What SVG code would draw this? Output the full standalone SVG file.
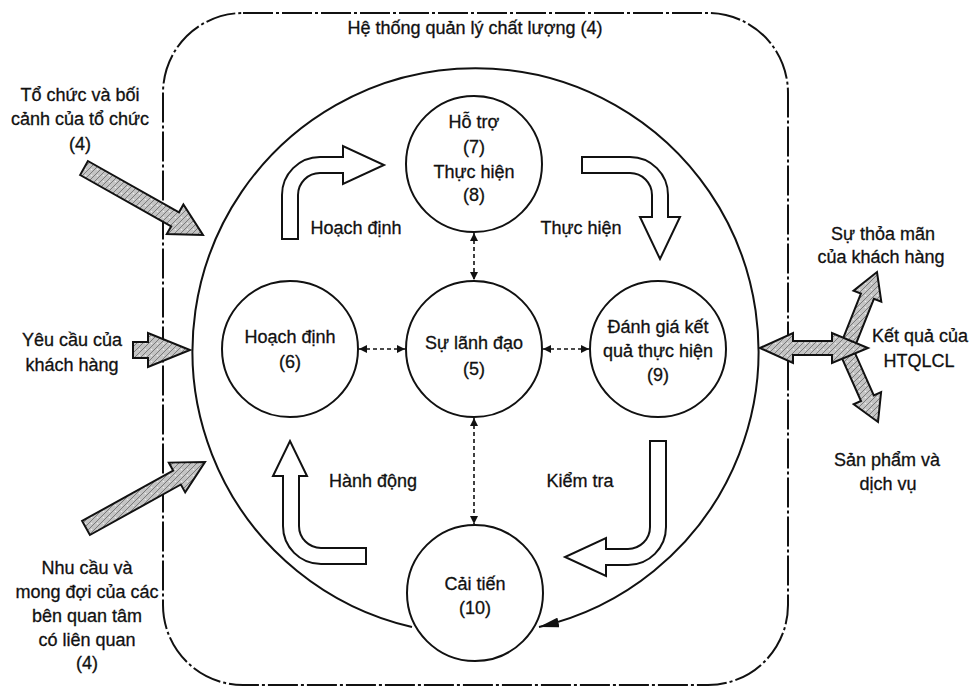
<svg xmlns="http://www.w3.org/2000/svg" width="972" height="691" viewBox="0 0 972 691">
<defs>
<style>
text{font-family:"Liberation Sans",Arial,sans-serif;font-size:18px;fill:#111;stroke:#111;stroke-width:0.3;text-anchor:middle}
.node{fill:#fff;stroke:#111;stroke-width:2}
.dash{stroke:#111;stroke-width:1.6;stroke-dasharray:4 3;fill:none;marker-start:url(#sm);marker-end:url(#sm)}
.block{fill:#fff;stroke:#111;stroke-width:2;stroke-linejoin:miter}
.hatch{fill:url(#hp);stroke:#111;stroke-width:2;stroke-linejoin:miter}
.frame{fill:none;stroke:#111;stroke-width:2;stroke-dasharray:30 3 3 3}
.cycle{fill:none;stroke:#111;stroke-width:2;marker-end:url(#big)}
</style>
<pattern id="hp" width="6" height="6" patternUnits="userSpaceOnUse">
<rect width="6" height="6" fill="#c4c4c4"/>
<path d="M0,6 L6,0" stroke="#7a7a7a" stroke-width="1"/>
<circle cx="1.5" cy="1.5" r="0.8" fill="#eee"/>
</pattern>
<marker id="sm" viewBox="0 0 10 10" refX="10" refY="5" markerWidth="5" markerHeight="5" orient="auto-start-reverse" markerUnits="strokeWidth">
<path d="M0,0 L10,5 L0,10 Z" fill="#111"/>
</marker>
<marker id="big" viewBox="0 0 20 10" refX="20" refY="5" markerWidth="10" markerHeight="5" orient="auto" markerUnits="strokeWidth">
<path d="M0,0 L20,5 L0,10 Z" fill="#111"/>
</marker>
</defs>
<rect width="972" height="691" fill="#fff"/>

<g id="qms-frame">
<rect class="frame" x="163" y="13" width="625" height="672" rx="80" ry="80"/>
<text x="475" y="34">Hệ thống quản lý chất lượng (4)</text>
</g>

<g id="connectors">
<path class="cycle" d="M412,627 A283,283 0 1 1 539,627"/>
<line class="dash" x1="474" y1="233" x2="474" y2="280"/>
<line class="dash" x1="474" y1="418" x2="474" y2="524"/>
<line class="dash" x1="359" y1="349" x2="405" y2="349"/>
<line class="dash" x1="543" y1="349" x2="589" y2="349"/>
<path class="block" d="M282,239 L282,195 A38,38 0 0 1 320,157 L343,157 L343,146 L384,165 L343,184 L343,173 L320,173 A22,22 0 0 0 298,195 L298,239 Z"/>
<path class="block" d="M582,157 L630,157 A38,38 0 0 1 668,195 L668,217 L680,217 L660,259 L640,217 L652,217 L652,195 A22,22 0 0 0 630,173 L582,173 Z"/>
<path class="block" d="M283,476 L283,526 A38,38 0 0 0 321,564 L366,564 L366,548 L321,548 A22,22 0 0 1 299,526 L299,476 L307,476 L290,441 L273,476 Z"/>
<path class="block" d="M650,441 L666,441 L666,527 A38,38 0 0 1 628,565 L606,565 L606,576 L565,557 L606,538 L606,549 L628,549 A22,22 0 0 0 650,527 Z"/>
<polygon class="hatch" points="80.1,175 171.2,226.3 166.8,234.1 203,235 183.4,204.5 179,212.3 87.9,161"/>
<polygon class="hatch" points="133,342 148,342 148,333 190,350 148,367 148,358 133,358"/>
<polygon class="hatch" points="89.9,535 180.9,484.5 185.2,492.4 205,462 168.8,462.6 173.1,470.5 82.1,521"/>
<polygon class="hatch" points="852.5,352.6 873.9,298.8 881.3,301.7 877,272 853.5,290.7 860.9,293.6 839.5,347.4"/>
<polygon class="hatch" points="839.6,352.8 861,401 853.7,404.3 878,422 881.1,392.1 873.8,395.4 852.4,347.2"/>
<polygon class="hatch" points="760,348 793,333 793,341 832,341 832,333 868,348 832,363 832,355 793,355 793,363"/>
<text x="356" y="234">Hoạch định</text>
<text x="581" y="234">Thực hiện</text>
<text x="373" y="487">Hành động</text>
<text x="580" y="487">Kiểm tra</text>
</g>

<g id="node-ho-tro">
<circle class="node" cx="474" cy="164" r="68"/>
<text x="474" y="128">Hỗ trợ</text>
<text x="474" y="153">(7)</text>
<text x="474" y="178">Thực hiện</text>
<text x="474" y="201">(8)</text>
</g>
<g id="node-hoach-dinh">
<circle class="node" cx="290" cy="349" r="68"/>
<text x="290" y="343">Hoạch định</text>
<text x="290" y="368">(6)</text>
</g>
<g id="node-lanh-dao">
<circle class="node" cx="474" cy="349" r="68"/>
<text x="474" y="349">Sự lãnh đạo</text>
<text x="474" y="375">(5)</text>
</g>
<g id="node-danh-gia">
<circle class="node" cx="658" cy="349" r="68"/>
<text x="658" y="333">Đánh giá kết</text>
<text x="658" y="357">quả thực hiện</text>
<text x="658" y="381">(9)</text>
</g>
<g id="node-cai-tien">
<circle class="node" cx="475" cy="593" r="68"/>
<text x="475" y="590">Cải tiến</text>
<text x="475" y="614">(10)</text>
</g>

<g id="input-to-chuc">
<text x="80" y="101">Tổ chức và bối</text>
<text x="80" y="125">cảnh của tổ chức</text>
<text x="80" y="150">(4)</text>
</g>
<g id="input-yeu-cau">
<text x="72" y="346">Yêu cầu của</text>
<text x="72" y="371">khách hàng</text>
</g>
<g id="input-nhu-cau">
<text x="87" y="574">Nhu cầu và</text>
<text x="87" y="598">mong đợi của các</text>
<text x="87" y="622">bên quan tâm</text>
<text x="87" y="646">có liên quan</text>
<text x="87" y="669">(4)</text>
</g>
<g id="output-thoa-man">
<text x="883" y="240">Sự thỏa mãn</text>
<text x="881" y="263">của khách hàng</text>
</g>
<g id="output-ket-qua">
<text x="920" y="342">Kết quả của</text>
<text x="919" y="367">HTQLCL</text>
</g>
<g id="output-san-pham">
<text x="887" y="466">Sản phẩm và</text>
<text x="888" y="490">dịch vụ</text>
</g>
</svg>
